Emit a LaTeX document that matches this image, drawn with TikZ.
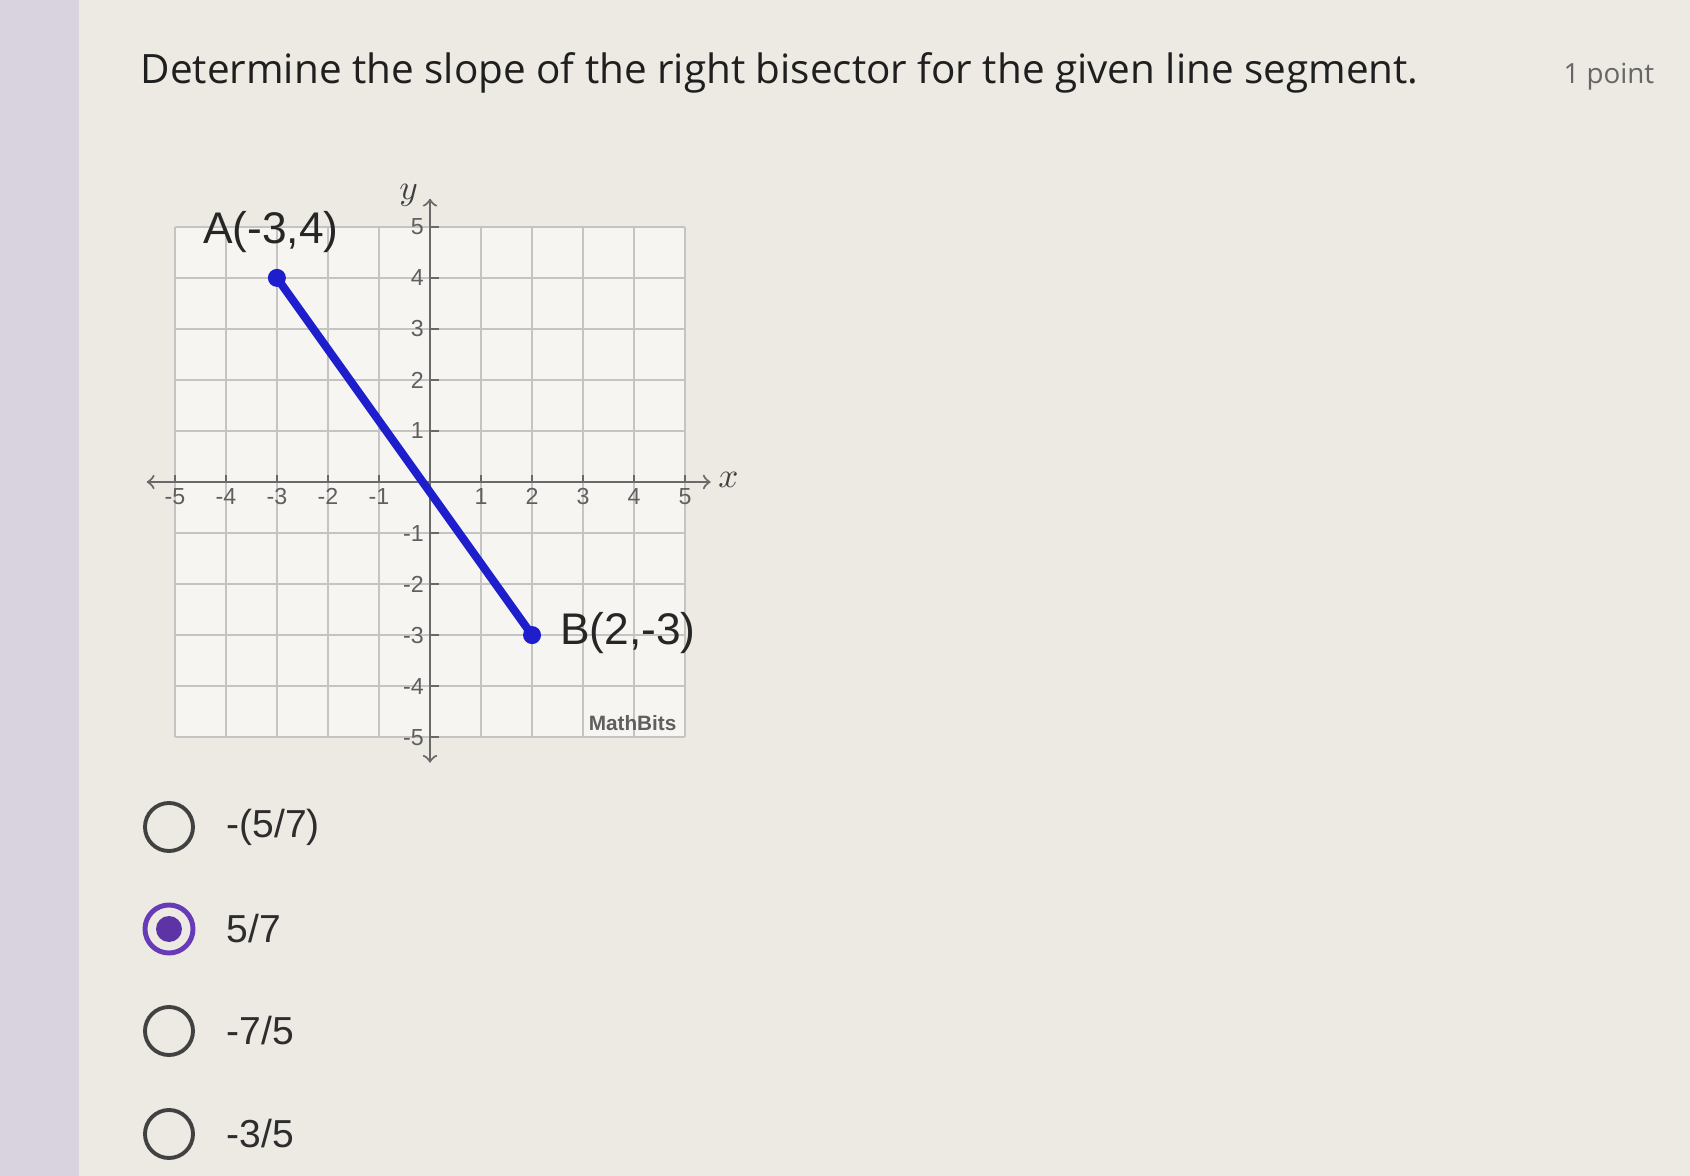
\documentclass[tikz,border=0pt]{standalone}
\usepackage{xcolor}
\usepackage{fontspec}
\setmainfont{Liberation Sans}
\newfontfamily\titlefont{Open Sans}
\usepackage{tikz}

\definecolor{pagebg}{RGB}{236,234,227}
\definecolor{sidebar}{RGB}{216,211,223}
\definecolor{plotbg}{RGB}{246,245,242}
\definecolor{gridgray}{RGB}{196,196,194}
\definecolor{axisgray}{RGB}{105,105,105}
\definecolor{ticktext}{RGB}{95,95,95}
\definecolor{segblue}{RGB}{30,30,205}
\definecolor{formpurple}{RGB}{103,58,183}
\definecolor{radiogray}{RGB}{65,65,65}
\definecolor{answertext}{RGB}{45,45,45}

\tikzset{
  axisline/.style={axisgray, line width=0.6pt},
  gridline/.style={gridgray, line width=0.6pt},
  ticklabel/.style={text=ticktext, font=\fontsize{6.6}{8}\selectfont, inner sep=1.5pt},
  enddot/.style={circle, fill=segblue, inner sep=0pt, minimum size=0.18cm},
  pointlabel/.style={font=\fontsize{12.6}{15}\selectfont, text=black!85},
  radio/.style={circle, draw=radiogray, line width=1.1pt, minimum size=0.48cm, inner sep=0pt},
  answer/.style={anchor=west, inner sep=0pt, text=answertext, font=\fontsize{11.1}{13}\selectfont}
}

\begin{document}
\begin{tikzpicture}[x=0.01cm, y=-0.01cm]
  \fill[pagebg] (0,0) rectangle (1690,1176);
  \fill[sidebar] (0,0) rectangle (79,1176);
  \useasboundingbox (0,0) rectangle (1690,1176);

  \node[anchor=base west, inner sep=0pt, text=black!88, font=\titlefont\fontsize{11.5}{14}\selectfont] (title) at (140,84)
    {Determine the slope of the right bisector for the given line segment.};
  \node[anchor=base east, inner sep=0pt, text=black!60, font=\titlefont\fontsize{7.9}{10}\selectfont] (points) at (1655,84) {1 point};

  \begin{scope}[shift={(430,482)}, x=0.51cm, y=0.51cm]
    \fill[plotbg] (-5,-5) rectangle (5,5);
    \foreach \k in {-5,...,5} {
        \draw[gridline] (\k,-5) -- (\k,5);
        \draw[gridline] (-5,\k) -- (5,\k);
    }

    \coordinate (xmin) at (-5.55,0);
    \coordinate (xmax) at (5.5,0);
    \coordinate (ymin) at (0,-5.5);
    \coordinate (ymax) at (0,5.55);
    \draw[axisline, <->] (xmin) -- (xmax);
    \draw[axisline, <->] (ymin) -- (ymax);
    \node[font=\itshape\fontsize{10}{12}\selectfont, text=black!75] (xname) at (5.85,0.05) {$x$};
    \node[font=\itshape\fontsize{10}{12}\selectfont, text=black!75] (yname) at (-0.42,5.62) {$y$};

    \foreach \x in {-5,-4,-3,-2,-1,1,2,3,4,5} {
        \draw[axisline] (\x,0.14) -- (\x,0) node[below, ticklabel]{\x};
    }
    \foreach \y in {-5,-4,-3,-2,-1,1,2,3,4,5} {
        \draw[axisline] (0.18,\y) -- (0,\y) node[left, ticklabel]{\y};
    }

    \node[enddot] (A) at (-3,4) {};
    \node[enddot] (B) at (2,-3) {};
    \draw[segblue, line width=2.3pt, line cap=round] (A.center) -- (B.center);

    \node[pointlabel] (alabel) at (-3.12,4.9) {A(-3,4)};
    \node[pointlabel] (blabel) at (3.88,-2.95) {B(2,-3)};
    \node[text=ticktext, font=\bfseries\fontsize{5.9}{7}\selectfont] (mathbits) at (3.97,-4.73) {MathBits};
  \end{scope}

  \node[radio] (r1) at (169,827) {};
  \node[radio, draw=formpurple, line width=1.4pt] (r2) at (169,929) {};
  \node[radio] (r3) at (169,1031) {};
  \node[radio] (r4) at (169,1134) {};
  \fill[formpurple!90!black] (r2.center) circle (13);

  \node[answer] (opt1) at (226,827) {-(5/7)};
  \node[answer] (opt2) at (226,929) {5/7};
  \node[answer] (opt3) at (226,1031) {-7/5};
  \node[answer] (opt4) at (226,1134) {-3/5};
\end{tikzpicture}
\end{document}
